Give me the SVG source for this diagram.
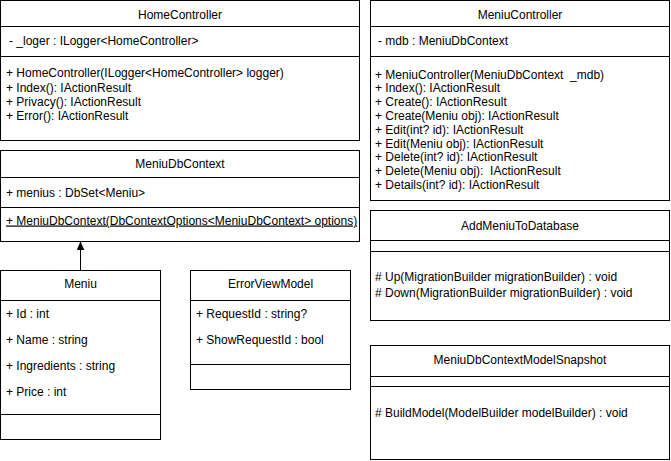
<svg xmlns="http://www.w3.org/2000/svg" width="671" height="461" viewBox="0 0 671 461">
  <style>
    .box { fill: #ffffff; stroke: #000000; stroke-width: 1; }
    .sep { stroke: #000000; stroke-width: 1; fill: none; }
    text { font-family: "Liberation Sans", Arial, Helvetica, sans-serif; font-size: 12px; fill: #000000; white-space: pre; }
    .title { text-anchor: middle; }
    .edge { stroke: #000000; stroke-width: 1; fill: none; }
  </style>
  <defs>
    <marker id="block" viewBox="0 0 8 8" refX="8" refY="4" markerWidth="8" markerHeight="8" markerUnits="userSpaceOnUse" orient="auto">
      <path d="M0,0.5 L8,4 L0,7.5 Z" fill="#000000" stroke="#000000" stroke-width="0.5"/>
    </marker>
  </defs>
  <rect width="671" height="461" fill="#ffffff"/>

  <!-- HomeController -->
  <g id="HomeController">
    <rect class="box" x="0.5" y="0.5" width="359" height="140"/>
    <line class="sep" x1="0.5" y1="26.5" x2="359.5" y2="26.5"/>
    <line class="sep" x1="0.5" y1="56.5" x2="359.5" y2="56.5"/>
    <text class="title" x="180" y="19">HomeController</text>
    <text x="9" y="45">- _loger : ILogger&lt;HomeController&gt;</text>
    <text x="6" y="77">+ HomeController(ILogger&lt;HomeController&gt; logger)</text>
    <text x="6" y="91.5">+ Index(): IActionResult</text>
    <text x="6" y="105.5">+ Privacy(): IActionResult</text>
    <text x="6" y="120">+ Error(): IActionResult</text>
  </g>

  <!-- MeniuDbContext -->
  <g id="MeniuDbContext">
    <rect class="box" x="0.5" y="150.5" width="359" height="91"/>
    <line class="sep" x1="0.5" y1="177.5" x2="359.5" y2="177.5"/>
    <line class="sep" x1="0.5" y1="207.5" x2="359.5" y2="207.5"/>
    <text class="title" x="180" y="167.5">MeniuDbContext</text>
    <text x="6" y="197">+ menius : DbSet&lt;Meniu&gt;</text>
    <text x="6" y="224.5" text-decoration="underline">+ MeniuDbContext(DbContextOptions&lt;MeniuDbContext&gt; options)</text>
  </g>

  <!-- Meniu -->
  <g id="Meniu">
    <rect class="box" x="0.5" y="270.5" width="160" height="169"/>
    <line class="sep" x1="0.5" y1="300.5" x2="160.5" y2="300.5"/>
    <line class="sep" x1="0.5" y1="414.5" x2="160.5" y2="414.5"/>
    <text class="title" x="80.5" y="287.5">Meniu</text>
    <text x="6" y="317.5">+ Id : int</text>
    <text x="6" y="343.5">+ Name : string</text>
    <text x="6" y="370">+ Ingredients : string</text>
    <text x="6" y="396">+ Price : int</text>
  </g>

  <!-- ErrorViewModel -->
  <g id="ErrorViewModel">
    <rect class="box" x="190.5" y="270.5" width="160" height="119"/>
    <line class="sep" x1="190.5" y1="300.5" x2="350.5" y2="300.5"/>
    <line class="sep" x1="190.5" y1="364.5" x2="350.5" y2="364.5"/>
    <text class="title" x="270.5" y="287.5">ErrorViewModel</text>
    <text x="196" y="317.5">+ RequestId : string?</text>
    <text x="196" y="343.5">+ ShowRequestId : bool</text>
  </g>

  <!-- MeniuController -->
  <g id="MeniuController">
    <rect class="box" x="370.5" y="0.5" width="299" height="200"/>
    <line class="sep" x1="370.5" y1="26.5" x2="669.5" y2="26.5"/>
    <line class="sep" x1="370.5" y1="56.5" x2="669.5" y2="56.5"/>
    <text class="title" x="520" y="19">MeniuController</text>
    <text x="378" y="45">- mdb : MeniuDbContext</text>
    <text x="375" y="78.5">+ MeniuController(MeniuDbContext  _mdb)</text>
    <text x="375" y="92.3">+ Index(): IActionResult</text>
    <text x="375" y="106.1">+ Create(): IActionResult</text>
    <text x="375" y="119.9">+ Create(Meniu obj): IActionResult</text>
    <text x="375" y="133.7">+ Edit(int? id): IActionResult</text>
    <text x="375" y="147.5">+ Edit(Meniu obj): IActionResult</text>
    <text x="375" y="161.3">+ Delete(int? id): IActionResult</text>
    <text x="375" y="175.1">+ Delete(Meniu obj):  IActionResult</text>
    <text x="375" y="188.9">+ Details(int? id): IActionResult</text>
  </g>

  <!-- AddMeniuToDatabase -->
  <g id="AddMeniuToDatabase">
    <rect class="box" x="370.5" y="210.5" width="299" height="110"/>
    <line class="sep" x1="370.5" y1="240.5" x2="669.5" y2="240.5"/>
    <line class="sep" x1="370.5" y1="251.5" x2="669.5" y2="251.5"/>
    <text class="title" x="520" y="229.5">AddMeniuToDatabase</text>
    <text x="375" y="281"># Up(MigrationBuilder migrationBuilder) : void</text>
    <text x="375" y="297"># Down(MigrationBuilder migrationBuilder) : void</text>
  </g>

  <!-- MeniuDbContextModelSnapshot -->
  <g id="MeniuDbContextModelSnapshot">
    <rect class="box" x="370.5" y="345.5" width="299" height="114"/>
    <line class="sep" x1="370.5" y1="376.5" x2="669.5" y2="376.5"/>
    <line class="sep" x1="370.5" y1="386.5" x2="669.5" y2="386.5"/>
    <text class="title" x="520" y="363.5">MeniuDbContextModelSnapshot</text>
    <text x="375" y="416.5"># BuildModel(ModelBuilder modelBuilder) : void</text>
  </g>

  <!-- connectors -->
  <g id="connectors">
    <path class="edge" d="M80.5,270.5 L80.5,242" marker-end="url(#block)"/>
  </g>
</svg>
